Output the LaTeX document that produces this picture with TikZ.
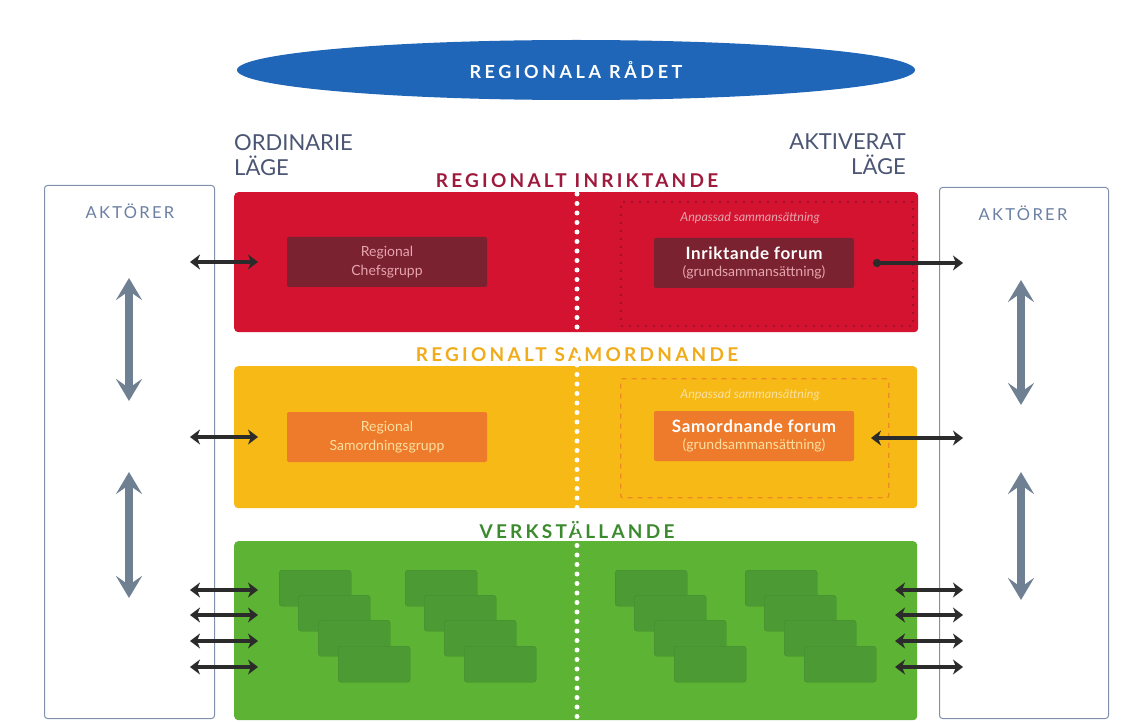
\documentclass[tikz,border=0pt]{standalone}
\usepackage{fontspec}
\setmainfont{Lato}
\usetikzlibrary{arrows.meta,shapes.geometric}
\definecolor{rblue}{HTML}{1F66B8}
\definecolor{rred}{HTML}{D31330}
\definecolor{rmaroon}{HTML}{7B2230}
\definecolor{rredtitle}{HTML}{9E1A3C}
\definecolor{rreddash}{HTML}{A0122A}
\definecolor{ryellow}{HTML}{F6B915}
\definecolor{rorange}{HTML}{EE7B2B}
\definecolor{ryeltitle}{HTML}{F0AC1A}
\definecolor{ryeldash}{HTML}{EE8A22}
\definecolor{rgreen}{HTML}{5DB333}
\definecolor{rgreenbox}{HTML}{4C9A34}
\definecolor{rgreentitle}{HTML}{3B8A2E}
\definecolor{aktborder}{HTML}{8090AA}
\definecolor{akttext}{HTML}{6B80A3}
\definecolor{lagetext}{HTML}{4B5574}
\definecolor{grayarrow}{HTML}{6F8093}
\definecolor{blackarrow}{HTML}{2B2B2B}
\definecolor{pinktext}{HTML}{E6A4AC}
\definecolor{yeltext}{HTML}{FBE0A0}
\tikzset{
  band/.style={rounded corners=4pt, draw=none, inner sep=0pt, anchor=north west},
  innerbox/.style={rounded corners=2pt, draw=none, inner sep=0pt, minimum width=200pt, minimum height=50pt, align=center},
  greenbox/.style={rounded corners=3pt, fill=rgreenbox, draw=rgreenbox!90!black, line width=0.4pt, minimum width=72pt, minimum height=36pt, inner sep=0pt, anchor=north west},
  akt/.style={rounded corners=3pt, draw=aktborder, line width=1pt, fill=white, inner sep=0pt, anchor=north west},
  bandtitle/.style={font=\fontsize{19}{22}\selectfont\bfseries\addfontfeatures{LetterSpace=17}},
  lage/.style={font=\fontsize{22}{25}\selectfont, text=lagetext, inner sep=0pt},
  akttitle/.style={font=\fontsize{16.5}{19}\selectfont\addfontfeatures{LetterSpace=14}, text=akttext},
  smallarrow/.style={draw=blackarrow, line width=4.5pt, {Stealth[length=10pt,width=15pt,inset=3pt]}-{Stealth[length=10pt,width=15pt,inset=3pt]}},
  bigarrow/.style={draw=grayarrow, line width=8pt, {Stealth[length=22pt,width=26pt,inset=9pt]}-{Stealth[length=22pt,width=26pt,inset=9pt]}},
  whitedots/.style={draw=white, line width=5pt, line cap=round, dash pattern=on 0pt off 9.5pt},
  ital/.style={font=\fontsize{12.5}{14}\selectfont\itshape},
}
\begin{document}
\begin{tikzpicture}[x=1pt,y=-1pt]
\useasboundingbox (0,0) rectangle (1128,722);
\fill[white] (0,0) rectangle (1128,722);

% top ellipse
\node (radet) [ellipse, fill=rblue, minimum width=678pt, minimum height=60pt, inner sep=0pt,
  font=\fontsize{18}{20}\selectfont\bfseries\addfontfeatures{LetterSpace=20}, text=white] at (576,70) {REGIONALA RÅDET};

% mode labels
\node (ordinarie) [lage, anchor=north west, align=left] at (234,134) {ORDINARIE\\LÄGE};
\node (aktiverat) [lage, anchor=north east, align=right] at (906,134) {AKTIVERAT\\LÄGE};

% actors columns
\node (aktL) [akt, minimum width=170pt, minimum height=533pt] at (44,185) {};
\node (aktR) [akt, minimum width=169pt, minimum height=531pt] at (939,187) {};
\node (aktLt) [akttitle] at (130,211) {AKTÖRER};
\node (aktRt) [akttitle] at (1023,213) {AKTÖRER};

% band titles
\node (tRed) [bandtitle, text=rredtitle] at (577,181) {REGIONALT INRIKTANDE};
\node (tYel) [bandtitle, text=ryeltitle] at (577,355) {REGIONALT SAMORDNANDE};
\node (tGrn) [bandtitle, text=rgreentitle] at (577,530) {VERKSTÄLLANDE};

% bands
\node (redband) [band, fill=rred, minimum width=684pt, minimum height=140pt] at (234,192) {};
\node (yelband) [band, fill=ryellow, minimum width=683pt, minimum height=142pt] at (234,366) {};
\node (grnband) [band, fill=rgreen, minimum width=683pt, minimum height=179pt] at (234,541) {};

% dashed frames
\node (redframe) [draw=rreddash, line width=1.8pt, dash pattern=on 2pt off 6pt, minimum width=292pt, minimum height=124pt, anchor=north west, inner sep=0pt] at (620,201) {};
\node (yelframe) [draw=ryeldash, line width=1.3pt, dash pattern=on 5pt off 5pt, rounded corners=2pt, minimum width=268pt, minimum height=119pt, anchor=north west, inner sep=0pt] at (620,378) {};

\node (anpR) [ital, text=pinktext] at (750,218) {Anpassad sammansättning};
\node (anpY) [ital, text=yeltext] at (750,395) {Anpassad sammansättning};

% inner boxes
\node (chef) [innerbox, fill=rmaroon, text=pinktext, font=\fontsize{14}{19}\selectfont] at (387,262) {Regional\\Chefsgrupp};
\node (inrforum) [innerbox, fill=rmaroon] at (754,263) {{\fontsize{17}{20}\selectfont\bfseries\addfontfeatures{LetterSpace=4}\color{white}Inriktande forum}\\[5pt]{\fontsize{14}{17}\selectfont\color{pinktext}(grundsammansättning)}};
\node (samgrp) [innerbox, fill=rorange, text=yeltext, font=\fontsize{14}{19}\selectfont] at (387,437) {Regional\\Samordningsgrupp};
\node (samforum) [innerbox, fill=rorange] at (754,436) {{\fontsize{17}{20}\selectfont\bfseries\addfontfeatures{LetterSpace=4}\color{white}Samordnande forum}\\[5pt]{\fontsize{14}{17}\selectfont\color{yeltext}(grundsammansättning)}};

% green small boxes
\foreach \gx [count=\g] in {279,405,615,745} {
  \foreach \dx/\dy [count=\k] in {0/570, 19/595, 39/620, 59/646} {
    \node (gb\g\k) [greenbox] at (\gx+\dx,\dy) {};
  }
}

% white dotted divider
\coordinate (divtop) at (577,194);
\coordinate (divbot) at (577,720);
\draw[whitedots] (divtop) -- (divbot);

% small black arrows left
\coordinate (lA1) at (190,262); \coordinate (lB1) at (258,262);
\coordinate (lA2) at (190,437); \coordinate (lB2) at (258,437);
\draw[smallarrow] (lA1) -- (lB1);
\draw[smallarrow] (lA2) -- (lB2);
\foreach \yy [count=\i] in {590,615,641,667} {
  \coordinate (lgA\i) at (190,\yy); \coordinate (lgB\i) at (258,\yy);
  \draw[smallarrow] (lgA\i) -- (lgB\i);
}
% small black arrows right
\coordinate (rA1) at (873,263); \coordinate (rB1) at (963,263);
\coordinate (rA2) at (871,438); \coordinate (rB2) at (963,438);
\draw[draw=blackarrow, line width=4.5pt, {Circle[length=8pt]}-{Stealth[length=10pt,width=15pt,inset=3pt]}] (rA1) -- (rB1);
\draw[smallarrow] (rA2) -- (rB2);
\foreach \yy [count=\i] in {590,615,641,667} {
  \coordinate (rgA\i) at (895,\yy); \coordinate (rgB\i) at (963,\yy);
  \draw[smallarrow] (rgA\i) -- (rgB\i);
}

% big gray arrows
\coordinate (bl1a) at (129,278); \coordinate (bl1b) at (129,401);
\coordinate (bl2a) at (129,472); \coordinate (bl2b) at (129,598);
\coordinate (br1a) at (1021,280); \coordinate (br1b) at (1021,405);
\coordinate (br2a) at (1021,472); \coordinate (br2b) at (1021,600);
\draw[bigarrow] (bl1a) -- (bl1b);
\draw[bigarrow] (bl2a) -- (bl2b);
\draw[bigarrow] (br1a) -- (br1b);
\draw[bigarrow] (br2a) -- (br2b);
\end{tikzpicture}
\end{document}
